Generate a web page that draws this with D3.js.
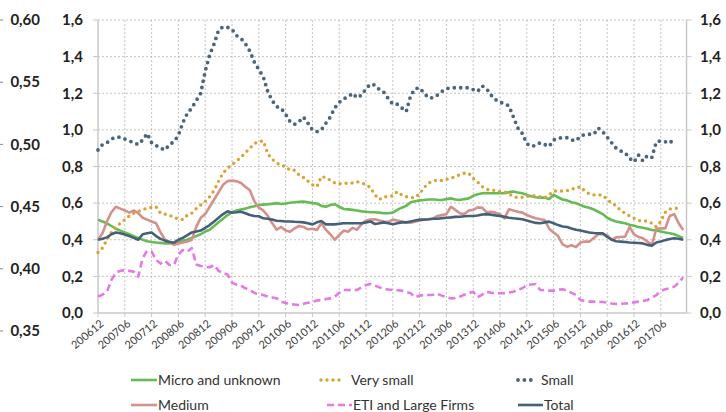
<!DOCTYPE html>
<html>
<head>
<meta charset="utf-8">
<script src="https://cdn.jsdelivr.net/npm/d3@7.9.0/dist/d3.min.js"></script>
<style>
  body { margin: 0; background: #fff; }
  svg { display: block; font-family: Lato, "Open Sans", sans-serif; }
</style>
</head>
<body>
<svg id="chart" width="726" height="412"></svg>
<script>
// monthly categories from 200612 to 201711 (132 months)
const startYear = 2006, startMonth = 12, monthCount = 132;
const months = d3.range(monthCount).map(i => {
  const m = startMonth - 1 + i;
  return `${startYear + Math.floor(m / 12)}${String(m % 12 + 1).padStart(2, '0')}`;
});

const tickLabels = ["200612","200706","200712","200806","200812","200906","200912","201006",
  "201012","201106","201112","201206","201212","201306","201312","201406","201412","201506",
  "201512","201606","201612","201706"];

const leftTicks = [0, 0.2, 0.4, 0.6, 0.8, 1.0, 1.2, 1.4, 1.6];
const farLeftTicks = [0.35, 0.40, 0.45, 0.50, 0.55, 0.60];

const micro = [
  0.51,0.50,0.49,0.475,0.46,0.45,0.44,0.43,0.42,0.41,0.40,0.392,
  0.388,0.385,0.383,0.38,0.38,0.382,0.39,0.395,0.40,0.41,0.42,0.43,
  0.445,0.455,0.475,0.495,0.515,0.535,0.55,0.56,0.565,0.57,0.578,0.583,
  0.59,0.592,0.594,0.596,0.60,0.595,0.598,0.602,0.605,0.607,0.608,0.605,
  0.60,0.598,0.585,0.58,0.59,0.594,0.58,0.568,0.566,0.563,0.56,0.555,
  0.553,0.55,0.55,0.548,0.545,0.545,0.548,0.563,0.575,0.585,0.605,0.61,
  0.615,0.617,0.62,0.62,0.618,0.617,0.622,0.626,0.62,0.617,0.622,0.626,
  0.64,0.648,0.654,0.655,0.654,0.654,0.655,0.654,0.66,0.663,0.658,0.654,
  0.645,0.637,0.632,0.63,0.63,0.623,0.645,0.632,0.62,0.615,0.605,0.60,
  0.59,0.58,0.575,0.565,0.553,0.54,0.52,0.508,0.50,0.495,0.49,0.482,
  0.476,0.47,0.466,0.46,0.453,0.45,0.445,0.44,0.436,0.43,0.42,0.41
];

const verySmall = [
  0.33,0.355,0.40,0.44,0.47,0.49,0.51,0.53,0.545,0.555,0.565,0.572,
  0.577,0.58,0.545,0.54,0.535,0.52,0.515,0.51,0.535,0.545,0.57,0.59,
  0.61,0.635,0.67,0.72,0.765,0.79,0.81,0.83,0.85,0.875,0.90,0.925,
  0.935,0.94,0.87,0.84,0.82,0.805,0.80,0.78,0.78,0.755,0.74,0.72,
  0.70,0.69,0.745,0.74,0.725,0.71,0.705,0.71,0.708,0.71,0.717,0.71,
  0.70,0.685,0.645,0.62,0.635,0.635,0.64,0.663,0.645,0.635,0.63,0.63,
  0.65,0.685,0.71,0.72,0.726,0.723,0.73,0.736,0.745,0.755,0.763,0.763,
  0.736,0.715,0.69,0.675,0.672,0.668,0.663,0.663,0.65,0.635,0.63,0.632,
  0.635,0.642,0.64,0.635,0.63,0.645,0.666,0.666,0.666,0.668,0.677,0.68,
  0.69,0.665,0.65,0.645,0.645,0.643,0.62,0.60,0.586,0.56,0.545,0.53,
  0.517,0.505,0.502,0.502,0.49,0.47,0.50,0.55,0.568,0.572,0.572
];

const small = [
  0.89,0.92,0.93,0.95,0.96,0.96,0.95,0.94,0.93,0.92,0.945,0.98,
  0.93,0.915,0.90,0.89,0.92,0.935,0.97,1.04,1.09,1.12,1.16,1.20,
  1.32,1.41,1.47,1.545,1.563,1.56,1.55,1.515,1.50,1.47,1.43,1.37,
  1.33,1.29,1.21,1.16,1.127,1.118,1.085,1.045,1.03,1.045,1.07,1.036,
  1.0,0.99,1.0,1.036,1.07,1.12,1.15,1.17,1.18,1.20,1.175,1.19,
  1.225,1.25,1.245,1.22,1.205,1.17,1.14,1.14,1.12,1.10,1.187,1.225,
  1.23,1.20,1.175,1.175,1.19,1.21,1.225,1.23,1.23,1.23,1.23,1.23,
  1.22,1.21,1.24,1.225,1.19,1.165,1.15,1.145,1.13,1.07,1.01,0.98,
  0.925,0.91,0.915,0.93,0.92,0.91,0.945,0.955,0.957,0.957,0.945,0.94,
  0.965,0.975,0.976,0.976,1.01,0.99,0.96,0.93,0.90,0.885,0.875,0.845,
  0.825,0.863,0.83,0.86,0.85,0.935,0.94,0.935,0.927,0.954
];

const medium = [
  0.40,0.435,0.50,0.55,0.58,0.57,0.56,0.548,0.56,0.545,0.52,0.51,
  0.50,0.49,0.44,0.40,0.39,0.372,0.38,0.385,0.39,0.40,0.47,0.52,
  0.54,0.58,0.62,0.66,0.70,0.72,0.723,0.72,0.71,0.69,0.67,0.61,
  0.575,0.56,0.53,0.49,0.455,0.47,0.45,0.444,0.462,0.475,0.47,0.457,
  0.46,0.453,0.49,0.455,0.43,0.40,0.425,0.45,0.444,0.465,0.455,0.485,
  0.505,0.51,0.512,0.505,0.50,0.498,0.51,0.505,0.50,0.495,0.493,0.50,
  0.504,0.51,0.512,0.515,0.53,0.535,0.54,0.58,0.563,0.545,0.54,0.56,
  0.563,0.577,0.575,0.55,0.553,0.548,0.54,0.517,0.566,0.56,0.553,0.548,
  0.535,0.526,0.518,0.512,0.508,0.46,0.44,0.42,0.375,0.362,0.37,0.36,
  0.385,0.39,0.39,0.41,0.43,0.43,0.425,0.40,0.413,0.415,0.417,0.47,
  0.43,0.415,0.408,0.39,0.372,0.46,0.462,0.462,0.53,0.54,0.49,0.453
];

const eti = [
  0.09,0.10,0.116,0.18,0.22,0.23,0.235,0.23,0.226,0.198,0.30,0.34,
  0.335,0.29,0.27,0.285,0.262,0.262,0.32,0.344,0.335,0.355,0.265,0.257,
  0.252,0.25,0.262,0.23,0.218,0.21,0.166,0.155,0.15,0.135,0.125,0.11,
  0.10,0.098,0.09,0.085,0.08,0.062,0.055,0.049,0.046,0.044,0.05,0.056,
  0.06,0.068,0.071,0.076,0.08,0.09,0.11,0.126,0.126,0.126,0.126,0.14,
  0.153,0.158,0.15,0.14,0.132,0.128,0.126,0.124,0.122,0.115,0.108,0.086,
  0.095,0.098,0.098,0.10,0.104,0.095,0.086,0.08,0.082,0.089,0.10,0.108,
  0.116,0.086,0.10,0.116,0.11,0.108,0.108,0.108,0.112,0.116,0.128,0.135,
  0.153,0.156,0.158,0.126,0.124,0.122,0.122,0.128,0.13,0.122,0.11,0.098,
  0.071,0.065,0.062,0.062,0.062,0.06,0.056,0.052,0.049,0.05,0.052,0.053,
  0.058,0.062,0.066,0.071,0.085,0.098,0.12,0.13,0.135,0.144,0.165,0.195
];

const total = [
  0.40,0.405,0.413,0.43,0.44,0.435,0.428,0.42,0.41,0.40,0.43,0.435,
  0.44,0.42,0.405,0.395,0.388,0.384,0.40,0.41,0.425,0.44,0.445,0.45,
  0.465,0.48,0.50,0.52,0.54,0.555,0.548,0.55,0.553,0.545,0.535,0.53,
  0.528,0.517,0.515,0.51,0.504,0.502,0.50,0.50,0.498,0.497,0.495,0.49,
  0.484,0.495,0.502,0.484,0.484,0.484,0.487,0.49,0.49,0.49,0.49,0.49,
  0.495,0.50,0.486,0.49,0.495,0.49,0.485,0.49,0.495,0.495,0.50,0.505,
  0.51,0.51,0.512,0.515,0.515,0.518,0.52,0.522,0.525,0.526,0.528,0.53,
  0.53,0.532,0.538,0.54,0.537,0.533,0.53,0.525,0.52,0.517,0.515,0.512,
  0.505,0.498,0.492,0.49,0.495,0.499,0.49,0.48,0.472,0.47,0.462,0.455,
  0.45,0.445,0.44,0.437,0.435,0.435,0.415,0.40,0.392,0.39,0.388,0.385,
  0.384,0.382,0.38,0.372,0.368,0.385,0.39,0.398,0.404,0.408,0.405,0.40
];

const series = [
  { name: "Micro and unknown", values: micro, color: "#66bb55", width: 2.6, dash: null, cap: "butt" },
  { name: "Very small", values: verySmall, color: "#dba234", width: 3.4, dash: "0,6", cap: "round" },
  { name: "Small", values: small, color: "#4b6679", width: 3.8, dash: "0,6.4", cap: "round" },
  { name: "Medium", values: medium, color: "#d4918c", width: 2.6, dash: null, cap: "butt" },
  { name: "ETI and Large Firms", values: eti, color: "#e47ae4", width: 2.6, dash: "7,4", cap: "butt" },
  { name: "Total", values: total, color: "#456178", width: 2.6, dash: null, cap: "butt" }
];

const svg = d3.select("#chart");
const plotLeft = 98, plotRight = 686.5, plotTop = 20, plotBottom = 313;

const x = d3.scaleLinear().domain([0, 131.75]).range([plotLeft, plotRight]);
const y = d3.scaleLinear().domain([0, 1.6]).range([plotBottom, plotTop]);
const yFar = d3.scaleLinear().domain([0.35, 0.60]).range([331, 20]);

const fmt = v => d3.format(".1f")(v).replace(".", ",");
const fmt2 = v => d3.format(".2f")(v).replace(".", ",");

// grid
const grid = svg.append("g");
leftTicks.filter(v => v > 0).forEach(v => {
  grid.append("line")
    .attr("x1", plotLeft).attr("x2", plotRight)
    .attr("y1", y(v)).attr("y2", y(v))
    .attr("stroke", "#b4b4b4").attr("stroke-width", 0.8)
    .attr("stroke-dasharray", "2,2");
});
tickLabels.forEach(t => {
  const i = months.indexOf(t);
  if (i <= 0) return;
  grid.append("line")
    .attr("x1", x(i)).attr("x2", x(i))
    .attr("y1", plotTop).attr("y2", plotBottom)
    .attr("stroke", "#b4b4b4").attr("stroke-width", 0.8)
    .attr("stroke-dasharray", "2,2");
});

// axis lines
const axisColor = "#c8c8c8";
svg.append("line").attr("x1", plotLeft).attr("x2", plotLeft).attr("y1", plotTop).attr("y2", plotBottom)
  .attr("stroke", axisColor).attr("stroke-width", 1.5);
svg.append("line").attr("x1", plotRight).attr("x2", plotRight).attr("y1", plotTop).attr("y2", plotBottom)
  .attr("stroke", axisColor).attr("stroke-width", 1.5);
svg.append("line").attr("x1", plotLeft).attr("x2", plotRight).attr("y1", plotBottom).attr("y2", plotBottom)
  .attr("stroke", axisColor).attr("stroke-width", 1.5);

// left and right y axes
const yl = svg.append("g");
leftTicks.forEach(v => {
  yl.append("line").attr("x1", plotLeft - 5).attr("x2", plotLeft).attr("y1", y(v)).attr("y2", y(v))
    .attr("stroke", axisColor);
  yl.append("text").attr("x", 83).attr("y", y(v)).attr("dy", "0.35em")
    .attr("text-anchor", "end").attr("font-size", 15).attr("font-weight", "bold")
    .attr("fill", "#222").text(fmt(v));
  yl.append("line").attr("x1", plotRight).attr("x2", plotRight + 5).attr("y1", y(v)).attr("y2", y(v))
    .attr("stroke", axisColor);
  yl.append("text").attr("x", 700).attr("y", y(v)).attr("dy", "0.35em")
    .attr("text-anchor", "start").attr("font-size", 15).attr("font-weight", "bold")
    .attr("fill", "#222").text(fmt(v));
});

// far left axis
farLeftTicks.forEach(v => {
  svg.append("line").attr("x1", 0).attr("x2", 3).attr("y1", yFar(v)).attr("y2", yFar(v))
    .attr("stroke", "#888");
  svg.append("text").attr("x", 40).attr("y", yFar(v)).attr("dy", "0.35em")
    .attr("text-anchor", "end").attr("font-size", 15).attr("font-weight", "bold")
    .attr("fill", "#222").text(fmt2(v));
});

// x ticks and labels
tickLabels.forEach(t => {
  const i = months.indexOf(t);
  svg.append("line").attr("x1", x(i)).attr("x2", x(i)).attr("y1", plotBottom).attr("y2", plotBottom + 4)
    .attr("stroke", axisColor);
  svg.append("text")
    .attr("transform", `translate(${x(i) + 4},${plotBottom + 9}) rotate(-40)`)
    .attr("text-anchor", "end").attr("dy", "0.35em")
    .attr("font-size", 11).attr("fill", "#404040").text(t);
});

// series
const line = d3.line().x((d, i) => x(i)).y(d => y(d));
series.forEach(s => {
  svg.append("path")
    .attr("d", line(s.values))
    .attr("fill", "none")
    .attr("stroke", s.color)
    .attr("stroke-width", s.width)
    .attr("stroke-linecap", s.cap)
    .attr("stroke-linejoin", "round")
    .attr("stroke-dasharray", s.dash);
});

// legend
const legendPos = [
  { x: 131, y: 380, len: 26 }, { x: 321, y: 380, len: 23 }, { x: 518, y: 380, len: 16 },
  { x: 131, y: 405, len: 26 }, { x: 327, y: 405, len: 25 }, { x: 518, y: 405, len: 25 }
];
series.forEach((s, k) => {
  const p = legendPos[k];
  svg.append("line")
    .attr("x1", p.x).attr("x2", p.x + p.len).attr("y1", p.y).attr("y2", p.y)
    .attr("stroke", s.color).attr("stroke-width", s.width)
    .attr("stroke-linecap", s.cap).attr("stroke-dasharray", s.dash);
  const gap = s.dash && s.cap === "round" ? 7 : 1;
  svg.append("text").attr("x", p.x + p.len + gap).attr("y", p.y).attr("dy", "0.35em")
    .attr("font-size", 14).attr("fill", "#333").text(s.name);
});
</script>
</body>
</html>
